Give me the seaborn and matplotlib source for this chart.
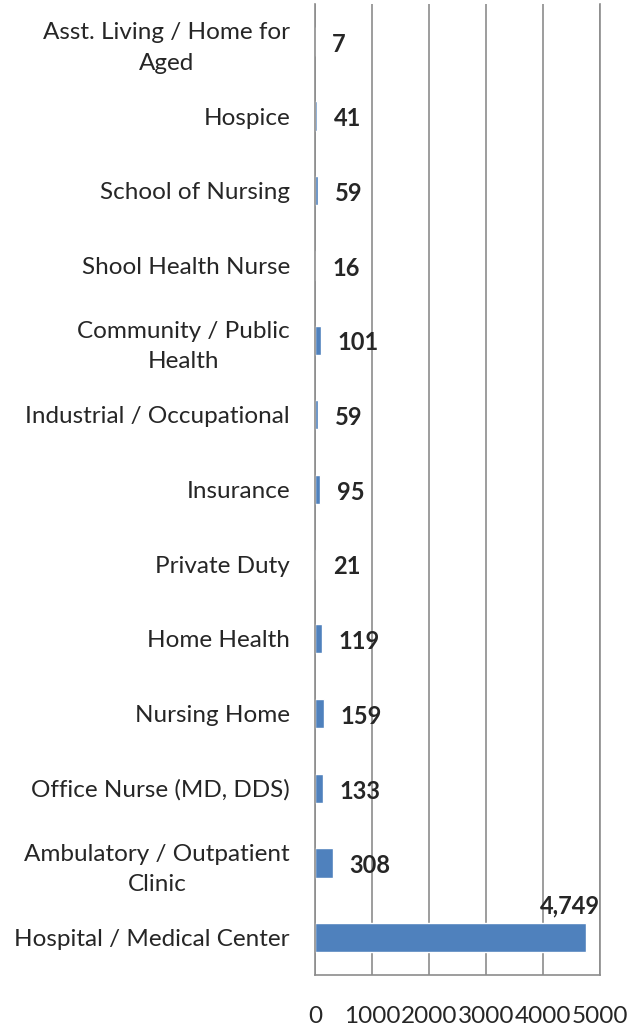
import pandas as pd
import numpy as np
import matplotlib.pyplot as plt
import seaborn as sns

# categories, top to bottom as in the chart
settings = ['Asst. Living / Home for\nAged', 'Hospice', 'School of Nursing',
            'Shool Health Nurse', 'Community / Public\nHealth',
            'Industrial / Occupational', 'Insurance', 'Private Duty',
            'Home Health', 'Nursing Home', 'Office Nurse (MD, DDS)',
            'Ambulatory / Outpatient\nClinic', 'Hospital / Medical Center']
counts = [7, 41, 59, 16, 101, 59, 95, 21, 119, 159, 133, 308, 4749]
x_ticks = [0, 1000, 2000, 3000, 4000, 5000]

df = pd.DataFrame({'Setting': settings, 'Count': counts})

sns.set_style('white')
plt.rcParams['font.family'] = ['Lato', 'DejaVu Sans']

fig = plt.figure(figsize=(6.43, 10.31), dpi=100)
ax = fig.add_axes([315 / 643, 1 - 975 / 1031, 285 / 643, 971 / 1031])

sns.barplot(data=df, x='Count', y='Setting', orient='h', color='#4F81BD',
            width=0.39, saturation=1, ax=ax)

ax.set_xlim(0, 5000)
ax.set_xticks(x_ticks)
ax.set_xticklabels([str(t) for t in x_ticks], fontsize=17.5)
ax.set_ylim(len(settings) - 0.5, -0.5)
ax.set_yticks(range(len(settings)))
ax.set_yticklabels(settings, fontsize=17.5, multialignment='center', linespacing=1.55)
ax.tick_params(axis='x', length=0, pad=22)
ax.tick_params(axis='y', length=0, pad=18)
ax.set_xlabel('')
ax.set_ylabel('')

ax.grid(axis='x', color='#8c8c8c', linewidth=1.2)
ax.set_axisbelow(True)
for s in ['left', 'bottom', 'right']:
    ax.spines[s].set_color('#8c8c8c')
    ax.spines[s].set_linewidth(1.2)
ax.spines['top'].set_visible(False)

for i, v in enumerate(counts):
    if v > 4000:
        ax.annotate(f'{v:,}', xy=(v, i), xytext=(10, 23), textcoords='offset points',
                    ha='right', va='center', fontsize=17, fontweight='bold')
    else:
        ax.annotate(f'{v:,}', xy=(v, i), xytext=(12, -2), textcoords='offset points',
                    ha='left', va='center', fontsize=17, fontweight='bold')

fig.savefig('out.png', dpi=100)
